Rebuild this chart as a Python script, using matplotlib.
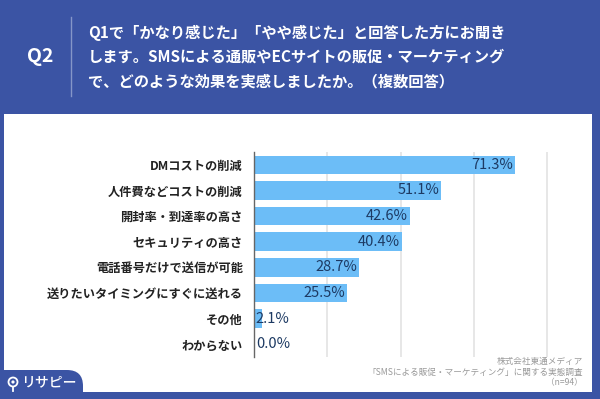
import matplotlib
matplotlib.use("Agg")
import matplotlib.pyplot as plt
from matplotlib.patches import FancyBboxPatch, Rectangle, Circle

plt.rcParams['font.family'] = ['Noto Sans CJK JP', 'DejaVu Sans']

# data
categories = [
    "DMコストの削減",
    "人件費などコストの削減",
    "開封率・到達率の高さ",
    "セキュリティの高さ",
    "電話番号だけで送信が可能",
    "送りたいタイミングにすぐに送れる",
    "その他",
    "わからない",
]
values = [71.3, 51.1, 42.6, 40.4, 28.7, 25.5, 2.1, 0.0]
grid_ticks = [20, 40, 60, 80]

question_no = "Q2"
question_lines = [
    "Q1で「かなり感じた」「やや感じた」と回答した方にお聞き",
    "します。SMSによる通販やECサイトの販促・マーケティング",
    "で、どのような効果を実感しましたか。（複数回答）",
]
source_lines = [
    "株式会社東通メディア",
    "「SMSによる販促・マーケティング」に関する実態調査",
    "（n=94）",
]

BG = "#3b54a4"
BAR = "#6cbdf7"
VALUE_COLOR = "#1d3a63"

W, H = 600, 399
fig = plt.figure(figsize=(W / 100, H / 100), dpi=100)
fig.patch.set_facecolor(BG)

# background layer in pixel coordinates
bg = fig.add_axes([0, 0, 1, 1])
bg.set_xlim(0, W)
bg.set_ylim(H, 0)
bg.axis("off")

# white panel
bg.add_patch(Rectangle((4, 114), 588, 278, facecolor="white", edgecolor="none"))
# bottom-left logo tab
bg.add_patch(FancyBboxPatch((-30, 370), 113, 60,
                            boxstyle="round,pad=0,rounding_size=16",
                            facecolor=BG, edgecolor="none"))

# header
bg.text(40, 57, question_no, color="white", fontsize=14, fontweight="bold",
        ha="center", va="center")
bg.plot([70.5, 70.5], [17, 96], color="#8596c8", lw=1)
for i, line in enumerate(question_lines):
    bg.text(88, 33 + i * 24, line, color="white", fontsize=11,
            fontweight="bold", ha="left", va="center")

# logo
bg.add_patch(Circle((13, 382), 4.5, facecolor="none", edgecolor="white", lw=1.3))
bg.add_patch(Circle((13, 382), 1.6, facecolor="white", edgecolor="none"))
bg.plot([13, 13], [386.5, 391], color="white", lw=1.3)
bg.text(21, 382.5, "リサピー", color="white", fontsize=10, fontweight="medium",
        ha="left", va="center")

# source note
for i, line in enumerate(source_lines):
    bg.text(583, 361 + i * 11, line, color="#9a9a9a", fontsize=6.2,
            ha="right", va="center")

# chart
x0, x1 = 254, 583
y_top, y_bot = 152, 357
ax = fig.add_axes([x0 / W, 1 - y_bot / H, (x1 - x0) / W, (y_bot - y_top) / H])
ax.set_facecolor("none")
px_per_pct = (547 - 254) / 80
ax.set_xlim(0, (x1 - x0) / px_per_pct)
ax.set_ylim(len(categories) - 0.5, -0.5)

ypos = list(range(len(categories)))
ax.barh(ypos, values, height=0.72, color=BAR, zorder=2)

for g in grid_ticks:
    ax.axvline(g, color="#e3e3e3", lw=1.2, zorder=1)

for y, v in zip(ypos, values):
    if v >= 10:
        ax.text(v - 0.5, y, f"{v:.1f}%", ha="right", va="center",
                fontsize=10.5, color=VALUE_COLOR, zorder=3)
    else:
        ax.text(0.5, y, f"{v:.1f}%", ha="left", va="center",
                fontsize=10.5, color=VALUE_COLOR, zorder=3)

ax.set_yticks(ypos)
ax.set_yticklabels(categories, fontsize=8.8, fontweight="bold", color="#222222")
ax.tick_params(axis="y", length=0, pad=8)
ax.set_xticks([])
for side in ["top", "right", "bottom"]:
    ax.spines[side].set_visible(False)
ax.spines["left"].set_color("#666666")
ax.spines["left"].set_linewidth(1)
ax.spines["left"].set_zorder(4)

fig.savefig("out.png", dpi=100, facecolor=BG)
